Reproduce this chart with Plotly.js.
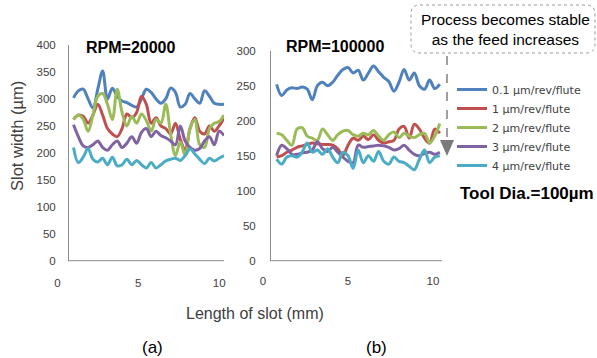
<!DOCTYPE html>
<html>
<head>
<meta charset="utf-8">
<script src="https://cdn.plot.ly/plotly-3.0.1.min.js"></script>
<style>html,body{margin:0;padding:0;background:#fff;}#chart{width:597px;height:358px;}</style>
</head>
<body>
<div id="chart"></div>
<script>
// ---- data ----
const seriesNames = ["0.1 µm/rev/flute", "1 µm/rev/flute", "2 µm/rev/flute", "3 µm/rev/flute", "4 µm/rev/flute"];
const seriesColors = ["#4F81BD", "#C0504D", "#9BBB59", "#8064A2", "#4BACC6"];

// (a) RPM = 20000
const xLeft = [1.0,1.3,1.6,1.9,2.2,2.5,2.8,3.1,3.4,3.7,4.0,4.3,4.6,4.9,5.2,5.5,5.8,6.1,6.4,6.7,7.0,7.3,7.6,7.9,8.2,8.5,8.8,9.1,9.4,9.7,10.0,10.3];
const left01 = [302,315,318,300,283,318,352,300,320,305,296,293,288,285,300,318,312,300,292,300,320,312,285,290,310,300,292,315,305,292,290,290];
const left1  = [262,270,268,255,270,290,270,245,235,230,245,272,265,275,305,290,255,265,250,245,235,255,225,205,245,265,240,235,250,240,250,265];
const left2  = [262,270,262,240,270,305,310,290,262,318,275,250,268,255,272,260,240,262,255,290,235,195,220,195,245,262,215,210,245,255,258,270];
const left3  = [252,230,213,210,215,222,210,205,215,222,210,218,230,218,238,245,230,240,232,228,222,215,250,222,210,205,208,222,230,215,240,232];
const left4  = [210,182,192,208,188,183,190,178,192,176,178,188,178,186,178,172,182,172,178,185,188,190,186,195,207,198,188,180,190,185,190,195];

// (b) RPM = 100000
const xRight = [0.8,1.1,1.4,1.7,2.0,2.3,2.6,2.9,3.2,3.5,3.8,4.1,4.4,4.7,5.0,5.3,5.6,5.9,6.2,6.5,6.8,7.1,7.4,7.7,8.0,8.3,8.6,8.9,9.2,9.5,9.8,10.1,10.4];
const right01 = [252,236,244,247,246,248,245,230,250,255,250,255,265,273,276,268,272,258,268,278,270,262,256,242,255,273,258,268,250,245,258,246,252];
const right1  = [148,150,155,158,162,164,166,168,167,166,166,165,160,150,165,175,172,178,173,180,172,168,170,172,188,192,175,195,188,175,168,188,182];
const right2  = [182,180,172,165,188,190,178,175,172,188,180,172,180,185,186,180,178,182,180,186,178,172,180,184,176,182,178,176,180,182,168,178,196];
const right3  = [150,165,160,152,152,154,155,158,170,160,156,162,155,148,142,140,165,162,163,164,165,164,162,158,160,165,158,152,150,153,155,152,155];
const right4  = [145,138,148,150,148,155,168,155,158,152,160,148,140,155,150,132,158,140,150,142,156,142,138,148,142,140,135,130,145,158,140,148,150];

const xTickVals = [0, 5, 10];
const yTicksLeft = [0,50,100,150,200,250,300,350,400];
const yTicksRight = [0,50,100,150,200,250,300];

// ---- helpers ----
const W = 597, H = 358;
const X = p => p / W;
const Y = p => 1 - p / H;

const leftSeries = [left01, left1, left2, left3, left4];
const rightSeries = [right01, right1, right2, right3, right4];

const traces = [];
leftSeries.forEach((ys, i) => traces.push({
  x: xLeft, y: ys, type: 'scatter', mode: 'lines', name: seriesNames[i],
  line: {color: seriesColors[i], width: 3, shape: 'spline', smoothing: 1},
  xaxis: 'x', yaxis: 'y', showlegend: true, hoverinfo: 'skip'
}));
rightSeries.forEach((ys, i) => traces.push({
  x: xRight, y: ys, type: 'scatter', mode: 'lines', name: seriesNames[i],
  line: {color: seriesColors[i], width: 3, shape: 'spline', smoothing: 1},
  xaxis: 'x2', yaxis: 'y2', showlegend: false, hoverinfo: 'skip'
}));

const tickFont = {family: 'Liberation Sans, Arial, sans-serif', size: 11.5, color: '#404040'};
const axisGray = '#8c8c8c';
const yBottom = 260.7;

const layout = {
  width: W, height: H,
  margin: {l: 0, r: 0, t: 0, b: 0},
  paper_bgcolor: '#fff', plot_bgcolor: 'rgba(0,0,0,0)',
  showlegend: true,
  legend: {
    x: X(452), y: Y(75), xanchor: 'left', yanchor: 'top',
    font: {family: 'DejaVu Sans, Verdana, sans-serif', size: 11, color: '#404040'},
    bgcolor: 'rgba(0,0,0,0)', borderwidth: 0, itemwidth: 30, tracegroupgap: 0
  },
  xaxis: {
    domain: [X(46), X(224)], range: [-0.7, 10.3], anchor: 'y',
    showline: false, showgrid: false, zeroline: false, ticks: '',
    tickmode: 'array', tickvals: xTickVals, tickfont: tickFont, ticklabelstandoff: 14
  },
  yaxis: {
    domain: [Y(yBottom), Y(45)], range: [0, 400], anchor: 'free', position: X(68),
    showline: true, linecolor: axisGray, linewidth: 1, showgrid: false, zeroline: false,
    ticks: '', tickmode: 'array', tickvals: yTicksLeft, tickfont: tickFont, ticklabelstandoff: 10
  },
  xaxis2: {
    domain: [X(255), X(442)], range: [-0.4706, 10.529], anchor: 'y2',
    showline: false, showgrid: false, zeroline: false, ticks: '',
    tickmode: 'array', tickvals: xTickVals, tickfont: tickFont, ticklabelstandoff: 12
  },
  yaxis2: {
    domain: [Y(yBottom), Y(50.7)], range: [0, 300], anchor: 'free', position: X(270),
    showline: true, linecolor: axisGray, linewidth: 1, showgrid: false, zeroline: false,
    ticks: '', tickmode: 'array', tickvals: yTicksRight, tickfont: tickFont, ticklabelstandoff: 12
  },
  shapes: [
    {type: 'line', xref: 'paper', yref: 'paper', x0: X(68), x1: X(224), y0: Y(yBottom), y1: Y(yBottom), line: {color: axisGray, width: 1}},
    {type: 'line', xref: 'paper', yref: 'paper', x0: X(270), x1: X(442), y0: Y(yBottom), y1: Y(yBottom), line: {color: axisGray, width: 1}},
    (function () {
      const x0 = 411, x1 = 595, y0 = 5, y1 = 53, r = 9;
      const p = (a, b) => X(a).toFixed(5) + ',' + Y(b).toFixed(5);
      return {
        type: 'path', xref: 'paper', yref: 'paper',
        path: 'M' + p(x0 + r, y0) + ' L' + p(x1 - r, y0) + ' Q' + p(x1, y0) + ' ' + p(x1, y0 + r) +
              ' L' + p(x1, y1 - r) + ' Q' + p(x1, y1) + ' ' + p(x1 - r, y1) +
              ' L' + p(x0 + r, y1) + ' Q' + p(x0, y1) + ' ' + p(x0, y1 - r) +
              ' L' + p(x0, y0 + r) + ' Q' + p(x0, y0) + ' ' + p(x0 + r, y0) + ' Z',
        fillcolor: '#ffffff', line: {color: '#9a9a9a', width: 1, dash: 'dot'}, layer: 'above'
      };
    })(),
    {type: 'line', xref: 'paper', yref: 'paper', x0: X(447), x1: X(447), y0: Y(56), y1: Y(141), line: {color: '#808080', width: 1.5, dash: 'dash'}},
    {type: 'path', xref: 'paper', yref: 'paper',
     path: 'M' + X(440) + ',' + Y(140) + ' L' + X(454) + ',' + Y(140) + ' L' + X(447) + ',' + Y(156) + ' Z',
     fillcolor: '#7a7a7a', line: {width: 0}}
  ],
  annotations: [
    {text: '<b>RPM=20000</b>', xref: 'paper', yref: 'paper', x: X(130), y: Y(47), showarrow: false,
     font: {family: 'Liberation Sans, Arial, sans-serif', size: 16, color: '#000'}, xanchor: 'center', yanchor: 'middle'},
    {text: '<b>RPM=100000</b>', xref: 'paper', yref: 'paper', x: X(335), y: Y(46), showarrow: false,
     font: {family: 'Liberation Sans, Arial, sans-serif', size: 16, color: '#000'}, xanchor: 'center', yanchor: 'middle'},
    {text: 'Process becomes stable<br>as the feed increases', xref: 'paper', yref: 'paper', x: X(505), y: Y(29), showarrow: false,
     font: {family: 'Liberation Sans, Arial, sans-serif', size: 15.5, color: '#000'}, xanchor: 'center', yanchor: 'middle', align: 'center'},
    {text: '<b>Tool Dia.=100µm</b>', xref: 'paper', yref: 'paper', x: X(527), y: Y(193), showarrow: false,
     font: {family: 'Liberation Sans, Arial, sans-serif', size: 17, color: '#000'}, xanchor: 'center', yanchor: 'middle'},
    {text: 'Slot width (µm)', xref: 'paper', yref: 'paper', x: X(17), y: Y(136), showarrow: false, textangle: -90,
     font: {family: 'Liberation Sans, Arial, sans-serif', size: 16.5, color: '#404040'}, xanchor: 'center', yanchor: 'middle'},
    {text: 'Length of slot (mm)', xref: 'paper', yref: 'paper', x: X(255), y: Y(313), showarrow: false,
     font: {family: 'Liberation Sans, Arial, sans-serif', size: 16, color: '#404040'}, xanchor: 'center', yanchor: 'middle'},
    {text: '(a)', xref: 'paper', yref: 'paper', x: X(152), y: Y(347), showarrow: false,
     font: {family: 'Liberation Sans, Arial, sans-serif', size: 17, color: '#000'}, xanchor: 'center', yanchor: 'middle'},
    {text: '(b)', xref: 'paper', yref: 'paper', x: X(376), y: Y(347), showarrow: false,
     font: {family: 'Liberation Sans, Arial, sans-serif', size: 17, color: '#000'}, xanchor: 'center', yanchor: 'middle'}
  ]
};

Plotly.newPlot('chart', traces, layout, {staticPlot: true, displayModeBar: false});
</script>
</body>
</html>
